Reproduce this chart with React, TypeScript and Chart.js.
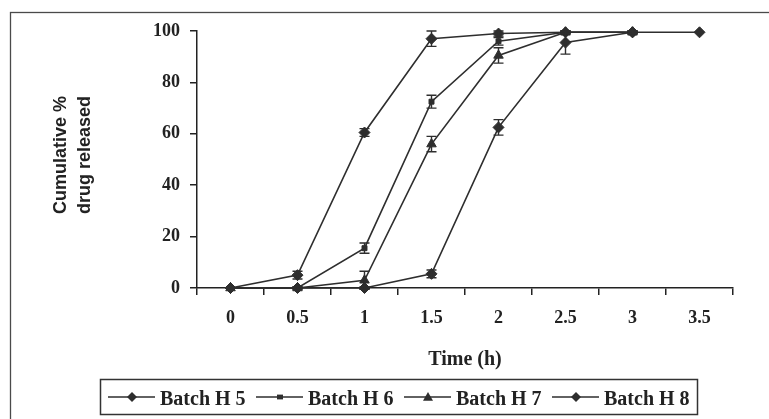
import React, { useEffect, useRef } from 'react';
import { Chart, registerables } from 'chart.js';

Chart.register(...registerables);

// ---- Data ----
const timeLabels = ['0', '0.5', '1', '1.5', '2', '2.5', '3', '3.5'];
const seriesNames = ['Batch H 5', 'Batch H 6', 'Batch H 7', 'Batch H 8'];

const batchH5 = [0, 5, 60.5, 97, 99, 99.5, 99.5, null];
const batchH5Err = [0, 1.5, 1.5, 3, 1, 0.5, 0.5, 0];
const batchH6 = [0, 0, 15.5, 72.5, 96, 99.5, 99.5, null];
const batchH6Err = [0, 0.5, 2, 2.5, 1.5, 0.5, 0.5, 0];
const batchH7 = [0, 0, 3, 56, 90.5, 99.5, 99.5, null];
const batchH7Err = [0, 0.5, 3.5, 3, 3, 0.5, 0.5, 0];
const batchH8 = [0, 0, 0, 5.5, 62.5, 95.5, 99.5, 99.5];
const batchH8Err = [0, 0, 0.5, 1.5, 3, 4.5, 0.5, 0];

const seriesValues = [batchH5, batchH6, batchH7, batchH8];
const seriesErrors = [batchH5Err, batchH6Err, batchH7Err, batchH8Err];
const seriesMarkers = ['rectRot', 'rect', 'triangle', 'rectRot'];
const markerSizes = [5.5, 3.5, 5.5, 5.5];

const yTitleLines = ['Cumulative %', 'drug released'];
const xTitle = 'Time (h)';

const INK = '#2e2e2e';
const SERIF = '"Liberation Serif", "Times New Roman", serif';
const SANS = '"Liberation Sans", Arial, sans-serif';

function drawMarker(ctx: CanvasRenderingContext2D, style: string, x: number, y: number, r: number) {
  ctx.beginPath();
  if (style === 'rectRot') {
    ctx.moveTo(x, y - r);
    ctx.lineTo(x + r, y);
    ctx.lineTo(x, y + r);
    ctx.lineTo(x - r, y);
    ctx.closePath();
  } else if (style === 'rect') {
    ctx.rect(x - r, y - r * 0.8, 2 * r, 1.6 * r);
  } else {
    ctx.moveTo(x, y - r);
    ctx.lineTo(x + r, y + r * 0.75);
    ctx.lineTo(x - r, y + r * 0.75);
    ctx.closePath();
  }
  ctx.fill();
}

const decorPlugin = {
  id: 'decor',
  beforeDraw(chart: any) {
    const ctx = chart.ctx as CanvasRenderingContext2D;
    ctx.save();
    ctx.fillStyle = '#ffffff';
    ctx.fillRect(0, 0, chart.width, chart.height);
    // outer frame (extends past the right / bottom edges)
    ctx.strokeStyle = '#4a4a4a';
    ctx.lineWidth = 1.3;
    ctx.strokeRect(10.5, 12.5, 800, 500);
    ctx.restore();
  },
  afterDatasetsDraw(chart: any) {
    const ctx = chart.ctx as CanvasRenderingContext2D;
    const yScale = chart.scales.y;
    ctx.save();
    ctx.strokeStyle = INK;
    ctx.lineWidth = 1.4;
    seriesValues.forEach((vals, i) => {
      const meta = chart.getDatasetMeta(i);
      vals.forEach((v, j) => {
        const e = seriesErrors[i][j];
        if (v === null || !e) return;
        const pt = meta.data[j];
        if (!pt) return;
        const x = pt.x;
        const yt = yScale.getPixelForValue(v + e);
        const yb = yScale.getPixelForValue(v - e);
        ctx.beginPath();
        ctx.moveTo(x, yt);
        ctx.lineTo(x, yb);
        ctx.moveTo(x - 5, yt);
        ctx.lineTo(x + 5, yt);
        ctx.moveTo(x - 5, yb);
        ctx.lineTo(x + 5, yb);
        ctx.stroke();
      });
    });
    ctx.restore();
  },
  afterDraw(chart: any) {
    const ctx = chart.ctx as CanvasRenderingContext2D;
    const area = chart.chartArea;
    ctx.save();
    ctx.fillStyle = '#222';
    // y-axis title
    ctx.font = `bold 18px ${SANS}`;
    ctx.textAlign = 'center';
    ctx.textBaseline = 'alphabetic';
    ctx.save();
    ctx.translate(66, 155);
    ctx.rotate(-Math.PI / 2);
    ctx.fillText(yTitleLines[0], 0, 0);
    ctx.fillText(yTitleLines[1], 0, 24);
    ctx.restore();
    // x-axis title
    ctx.font = `bold 20px ${SERIF}`;
    ctx.fillText(xTitle, (area.left + area.right) / 2, 365);
    // legend box
    ctx.strokeStyle = '#333';
    ctx.lineWidth = 1.5;
    ctx.strokeRect(100.5, 379.5, 597, 35);
    const ly = 397;
    seriesNames.forEach((name, i) => {
      const s = 108 + i * 148;
      ctx.strokeStyle = INK;
      ctx.lineWidth = 1.6;
      ctx.beginPath();
      ctx.moveTo(s, ly);
      ctx.lineTo(s + 47, ly);
      ctx.stroke();
      ctx.fillStyle = INK;
      drawMarker(ctx, seriesMarkers[i], s + 24, ly, i === 1 ? 3 : 5);
      ctx.fillStyle = '#222';
      ctx.font = `bold 20px ${SERIF}`;
      ctx.textAlign = 'left';
      ctx.fillText(name, s + 52, 405);
    });
    ctx.restore();
  },
};

export default function App() {
  const canvasRef = useRef<HTMLCanvasElement | null>(null);

  useEffect(() => {
    const canvas = canvasRef.current;
    if (!canvas) return;
    const tickFont = { family: SERIF, size: 18, weight: 'bold' as const };
    const chart = new Chart(canvas, {
      type: 'line',
      data: {
        labels: timeLabels,
        datasets: seriesValues.map((vals, i) => ({
          label: seriesNames[i],
          data: vals,
          borderColor: INK,
          backgroundColor: INK,
          borderWidth: 1.6,
          pointStyle: seriesMarkers[i] as any,
          pointRadius: markerSizes[i],
          pointBorderWidth: 1,
          pointBackgroundColor: INK,
          pointBorderColor: INK,
          tension: 0,
          clip: false as any,
          spanGaps: false,
        })),
      },
      options: {
        responsive: false,
        animation: false,
        events: [],
        layout: { padding: { top: 31, right: 36, bottom: 0, left: 0 } },
        plugins: {
          legend: { display: false },
          tooltip: { enabled: false },
        },
        scales: {
          x: {
            type: 'category',
            offset: true,
            grid: {
              display: true,
              offset: true,
              drawOnChartArea: false,
              drawTicks: true,
              tickLength: 7,
              color: '#222',
              lineWidth: 1.5,
            },
            border: { display: true, color: '#222', width: 1.5 },
            ticks: {
              font: tickFont,
              color: '#222',
              padding: 13,
              maxRotation: 0,
              autoSkip: false,
            },
            afterFit: (scale: any) => {
              scale.height = 131;
            },
          },
          y: {
            min: 0,
            max: 100,
            grid: {
              display: true,
              drawOnChartArea: false,
              drawTicks: true,
              tickLength: 7,
              color: '#222',
              lineWidth: 1.5,
            },
            border: { display: true, color: '#222', width: 1.5 },
            ticks: {
              stepSize: 20,
              font: tickFont,
              color: '#222',
              padding: 10,
            },
            afterFit: (scale: any) => {
              scale.width = 197;
            },
          },
        },
      },
      plugins: [decorPlugin],
    });
    return () => chart.destroy();
  }, []);

  return (
    <div style={{ position: 'absolute', left: 0, top: 0, width: 769, height: 419 }}>
      <canvas ref={canvasRef} width={769} height={419} style={{ display: 'block' }} />
    </div>
  );
}
